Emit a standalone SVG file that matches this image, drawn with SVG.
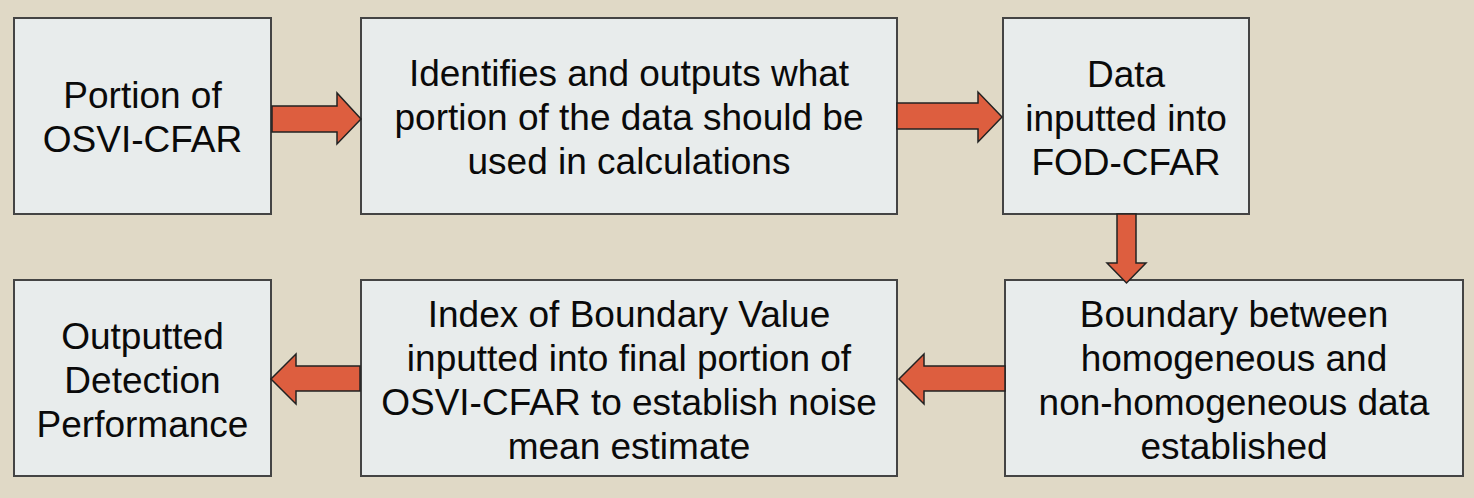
<svg xmlns="http://www.w3.org/2000/svg" width="1474" height="498" viewBox="0 0 1474 498">
<style>
.bg{fill:#E0D9C6}
.box{fill:#E8ECEC;stroke:#444444;stroke-width:2}
.arr{fill:#DD5E3F;stroke:#222222;stroke-width:1.5;stroke-linejoin:miter}
text{font-family:"Liberation Sans",Arial,sans-serif;font-size:37px;fill:#0a0a0a;text-anchor:middle}
</style>
<rect class="bg" x="0" y="0" width="1474" height="498"/>
<g id="n1"><rect class="box" x="14" y="18" width="257" height="196"/>
<text x="142.5" y="108">Portion of</text><text x="142.5" y="152">OSVI-CFAR</text></g>
<g id="n2"><rect class="box" x="361" y="18" width="536" height="196"/>
<text x="629" y="86">Identifies and outputs what</text><text x="629" y="130">portion of the data should be</text><text x="629" y="174">used in calculations</text></g>
<g id="n3"><rect class="box" x="1003" y="18" width="246" height="196"/>
<text x="1126" y="87">Data</text><text x="1126" y="131">inputted into</text><text x="1126" y="175">FOD-CFAR</text></g>
<g id="n4"><rect class="box" x="1005" y="280" width="458" height="196"/>
<text x="1234" y="327">Boundary between</text><text x="1234" y="371">homogeneous and</text><text x="1234" y="415">non-homogeneous data</text><text x="1234" y="459">established</text></g>
<g id="n5"><rect class="box" x="361" y="280" width="536" height="196"/>
<text x="629" y="327">Index of Boundary Value</text><text x="629" y="371">inputted into final portion of</text><text x="629" y="415">OSVI-CFAR to establish noise</text><text x="629" y="459">mean estimate</text></g>
<g id="n6"><rect class="box" x="14" y="280" width="257" height="196"/>
<text x="142.5" y="349">Outputted</text><text x="142.5" y="393">Detection</text><text x="142.5" y="437">Performance</text></g>
<g id="connectors">
<polygon class="arr" points="272,106 337,106 337,93 361,119 337,144 337,132 272,132"/>
<polygon class="arr" points="897,103 978,103 978,92 1002,117 978,142 978,129 897,129"/>
<polygon class="arr" points="1117,214 1136,214 1136,263 1146,263 1126.5,283 1107,263 1117,263"/>
<polygon class="arr" points="1005,366 924,366 924,354 899,379 924,404 924,391 1005,391"/>
<polygon class="arr" points="360,366 296,366 296,354 271,379 296,404 296,391 360,391"/>
</g>
</svg>
